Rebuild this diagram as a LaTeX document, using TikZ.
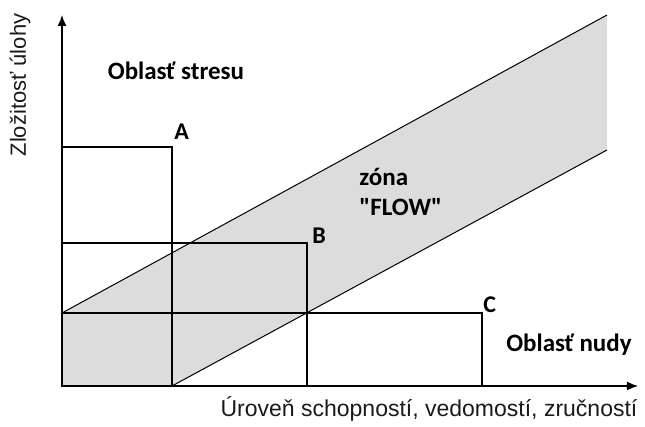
\documentclass[tikz,border=0pt]{standalone}
\usepackage{fontspec}
\newfontfamily\labelfont{Carlito}
\newfontfamily\axisfont{Liberation Sans}
\usetikzlibrary{arrows.meta,positioning,calc}
\definecolor{Band}{HTML}{DCDCDC}
\definecolor{Ink}{HTML}{1A1A1A}

\begin{document}
\begin{tikzpicture}[x=0.5pt,y=-0.5pt,
  area/.style={font=\labelfont\bfseries\fontsize{12.5}{15}\selectfont,text=black,inner sep=0pt},
  corner/.style={font=\labelfont\bfseries\fontsize{12}{14}\selectfont,text=black,inner sep=0pt},
  axislabel/.style={font=\axisfont\fontsize{11.5}{13}\selectfont,text=Ink,inner sep=0pt},
  axis/.style={-{Latex[length=5.5pt,width=4.5pt]},line width=0.7pt,draw=black},
  box/.style={line width=0.6pt,draw=black}
]
  \useasboundingbox (0,0) rectangle (645,427);
  % flow band
  \coordinate (O) at (62,386);
  \coordinate (bandlow) at (62,313);
  \coordinate (bandtop) at (607,15);
  \coordinate (bandright) at (607,150);
  \coordinate (bandfoot) at (172,386);
  \fill[Band] (bandlow) -- (bandtop) -- (bandright) -- (bandfoot) -- (O) -- cycle;
  \draw[line width=0.5pt] (bandlow) -- (bandtop);
  \draw[line width=0.5pt] (bandfoot) -- (bandright);
  % rectangles A, B, C
  \draw[box] (O) rectangle (172,147);
  \draw[box] (O) rectangle (307,243);
  \draw[box] (O) rectangle (482,313);
  % axes
  \coordinate (ytop) at (62,15);
  \coordinate (xend) at (638,386);
  \draw[axis] (O) -- (ytop);
  \draw[axis] (O) -- (xend);
  % labels
  \node[area] (stres) at (176,71) {Oblasť stresu};
  \node[area,align=left,anchor=north west] (flow) at (359,168) {zóna\\"FLOW"};
  \node[area] (nuda) at (569,345) {Oblasť nudy};
  \node[corner,anchor=south west] (A) at (174,140) {A};
  \node[corner,anchor=south west] (B) at (312,244) {B};
  \node[corner,anchor=south west] (C) at (483,313) {C};
  \node[axislabel,rotate=90,font=\axisfont\fontsize{11}{13}\selectfont] (ylab) at (20,85) {Zložitosť úlohy};
  \node[axislabel] (xlab) at (429,409) {Úroveň schopností, vedomostí, zručností};
\end{tikzpicture}
\end{document}
